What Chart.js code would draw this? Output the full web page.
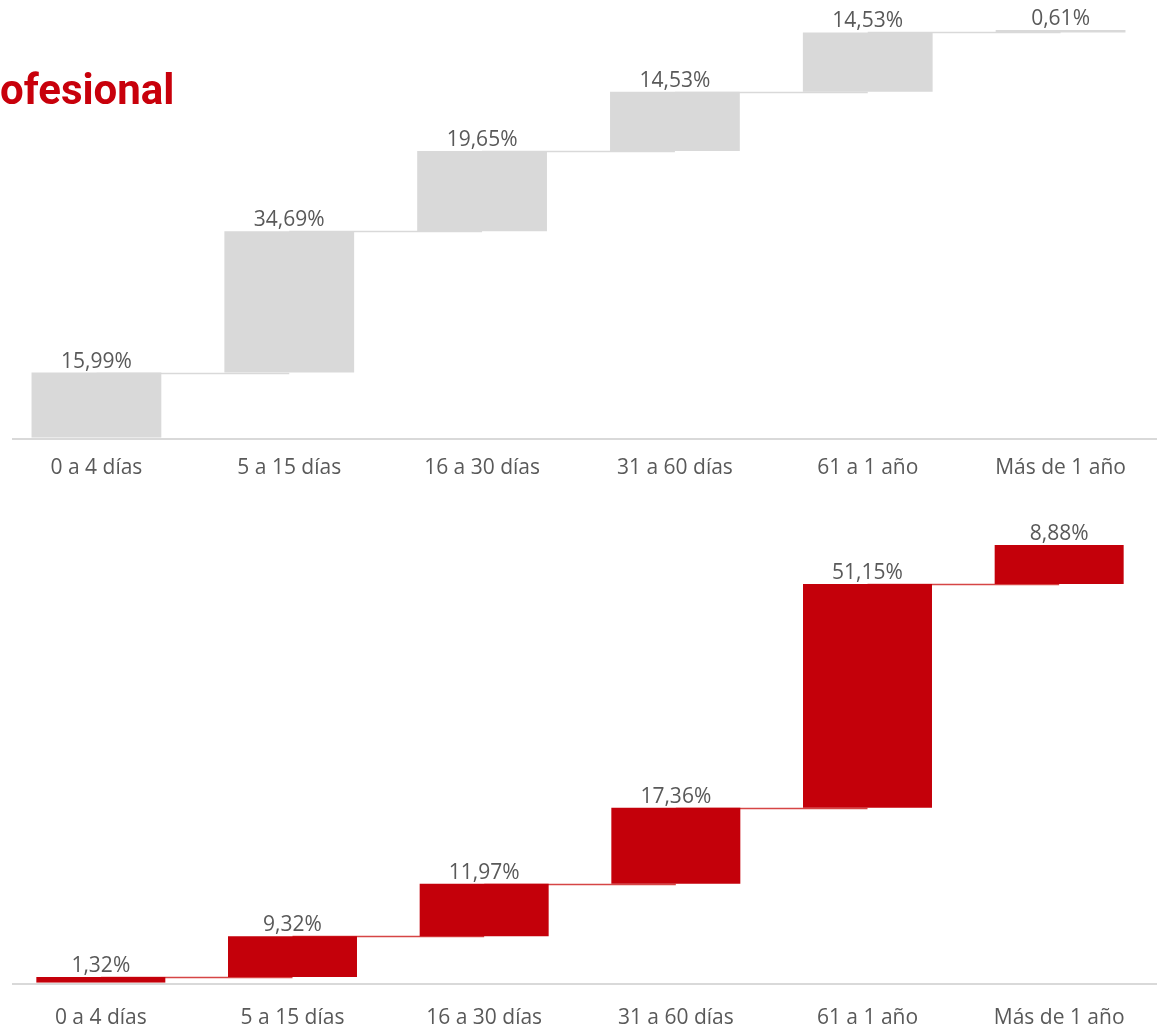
<!DOCTYPE html>
<html>
<head>
<meta charset="utf-8">
<script src="https://cdn.jsdelivr.net/npm/chart.js@4/dist/chart.umd.min.js"></script>
<style>
  html, body { margin: 0; padding: 0; background: #ffffff; }
  body { width: 1157px; height: 1036px; position: relative; overflow: hidden; }
  #title { position: absolute; left: 0; top: 69px; font: 700 42px Roboto, sans-serif; line-height: 1; color: #c8000b; white-space: nowrap; z-index: 2; }
  #c1 { position: absolute; left: 0; top: 0; }
  #c2 { position: absolute; left: 0; top: 495px; }
</style>
</head>
<body>
<div id="title">ofesional</div>
<canvas id="c1" width="1157" height="501"></canvas>
<canvas id="c2" width="1157" height="563"></canvas>
<script>
const categories = ['0 a 4 días', '5 a 15 días', '16 a 30 días', '31 a 60 días', '61 a 1 año', 'Más de 1 año'];
const topValues = [15.99, 34.69, 19.65, 14.53, 14.53, 0.61];
const bottomValues = [1.32, 9.32, 11.97, 17.36, 51.15, 8.88];

const LABEL_FONT = '"Open Sans", sans-serif';
const TEXT_COLOR = '#595959';

function fmt(v) { return v.toFixed(2).replace('.', ',') + '%'; }

function ranges(values) {
  let cum = 0;
  return values.map(v => { const r = [cum, cum + v]; cum += v; return r; });
}

const waterfallPlugin = {
  id: 'waterfall',
  beforeDatasetsDraw(chart, args, opts) {
    const meta = chart.getDatasetMeta(0);
    const y = chart.scales.y;
    const data = chart.data.datasets[0].data;
    const ctx = chart.ctx;
    ctx.save();
    // axis baseline
    const by = Math.round(y.getPixelForValue(0)) + 1;
    ctx.strokeStyle = '#d9d9d9';
    ctx.lineWidth = 2;
    ctx.beginPath();
    ctx.moveTo(opts.axisStart, by);
    ctx.lineTo(chart.width, by);
    ctx.stroke();
    // connectors
    ctx.strokeStyle = opts.lineColor;
    ctx.lineWidth = opts.lineWidth;
    for (let i = 0; i < data.length - 1; i++) {
      const py = Math.round(y.getPixelForValue(data[i][1])) + 0.5;
      ctx.beginPath();
      ctx.moveTo(meta.data[i].x, py);
      ctx.lineTo(meta.data[i + 1].x, py);
      ctx.stroke();
    }
    ctx.restore();
  },
  afterDatasetsDraw(chart, args, opts) {
    const meta = chart.getDatasetMeta(0);
    const y = chart.scales.y;
    const data = chart.data.datasets[0].data;
    const vals = opts.values;
    const ctx = chart.ctx;
    ctx.save();
    ctx.fillStyle = TEXT_COLOR;
    ctx.font = '21px ' + LABEL_FONT;
    ctx.textAlign = 'center';
    ctx.textBaseline = 'alphabetic';
    for (let i = 0; i < data.length; i++) {
      const top = y.getPixelForValue(data[i][1]);
      ctx.fillText(fmt(vals[i]), meta.data[i].x, top - 5);
    }
    ctx.restore();
  }
};

function makeChart(id, values, color, lineColor, padding, tickPad) {
  return new Chart(document.getElementById(id), {
    type: 'bar',
    data: {
      labels: categories,
      datasets: [{
        data: ranges(values),
        backgroundColor: color,
        borderWidth: 0,
        borderSkipped: false,
        categoryPercentage: 1,
        barPercentage: 0.673
      }]
    },
    options: {
      responsive: false,
      animation: false,
      devicePixelRatio: 1,
      layout: { padding: padding },
      plugins: {
        legend: { display: false },
        tooltip: { enabled: false },
        title: { display: false },
        waterfall: { values: values, lineColor: lineColor, lineWidth: 1.5, axisStart: 12 }
      },
      scales: {
        x: {
          grid: { display: false, drawTicks: false },
          border: { display: false },
          ticks: { color: TEXT_COLOR, font: { family: LABEL_FONT, size: 21 }, padding: tickPad, maxRotation: 0, autoSkip: false }
        },
        y: { display: false, min: 0, max: 100 }
      }
    },
    plugins: [waterfallPlugin]
  });
}

makeChart('c1', topValues, '#d9d9d9', '#d9d9d9', { top: 30, left: 0, right: 0, bottom: 2 }, 18);
makeChart('c2', bottomValues, '#c4000a', '#d64545', { top: 50, left: 5, right: 2, bottom: 4 }, 23);
</script>
</body>
</html>
